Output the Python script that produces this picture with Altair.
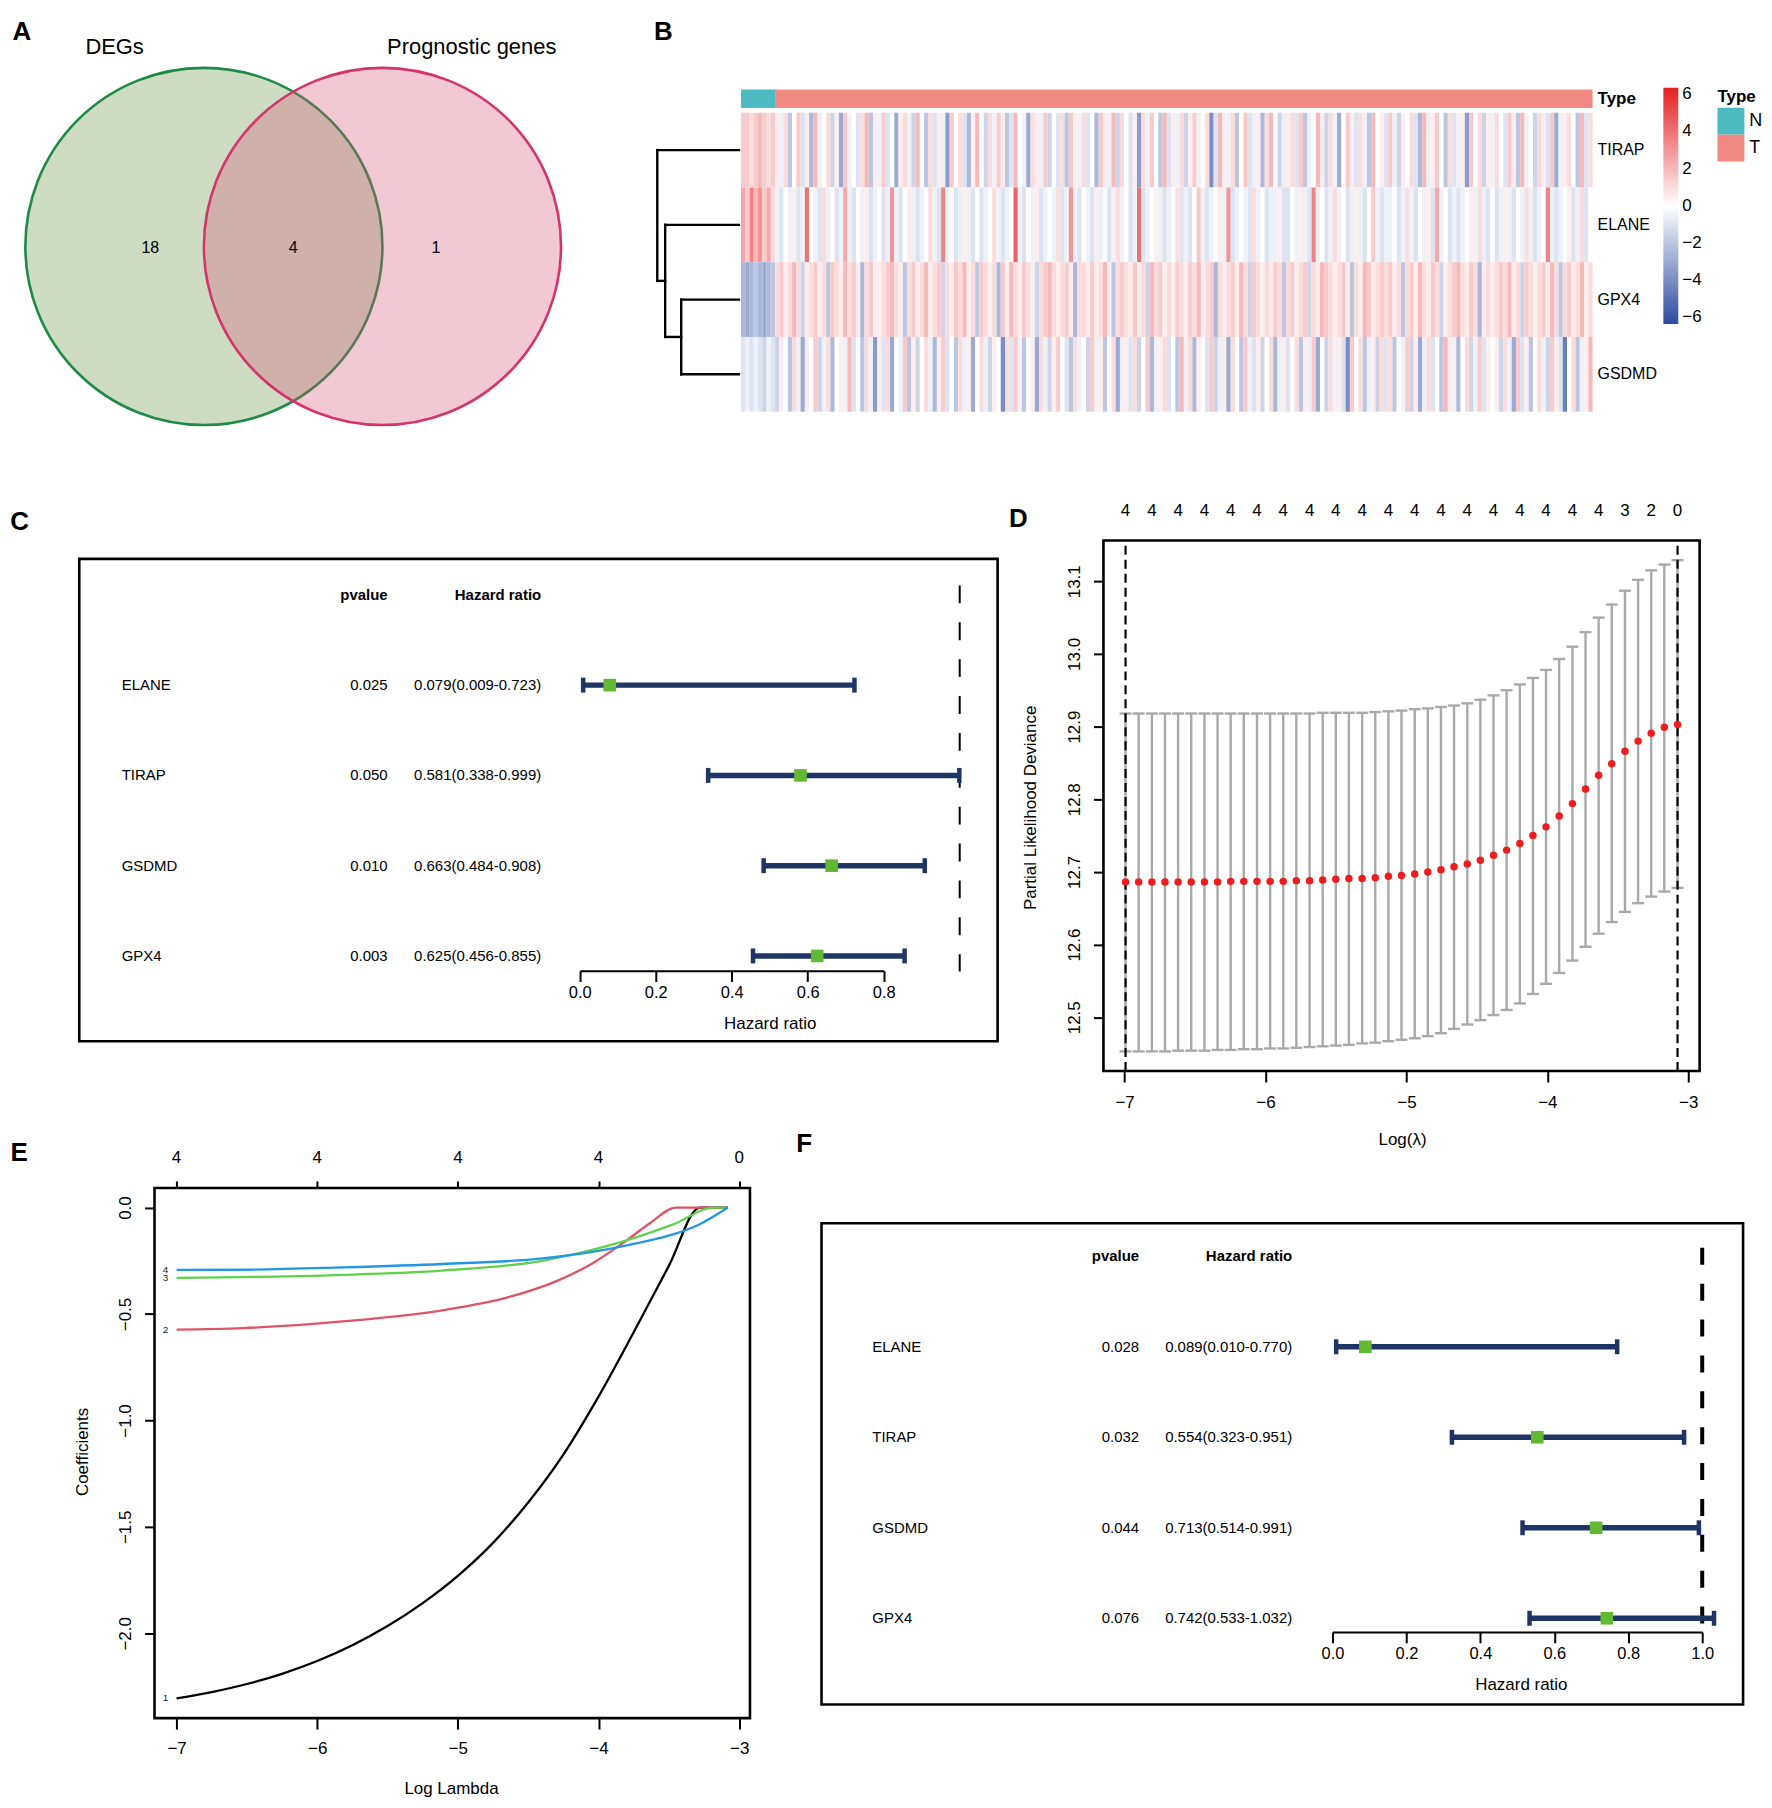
import altair as alt
import pandas as pd

W, H = 1762, 1796
FONT = "Liberation Sans"
NAVY = "#1F3566"
GREEN_SQ = "#62B832"

# ---------------- A: Venn diagram ----------------
VENN_SETS = ["DEGs", "Prognostic genes"]
VENN_CENTRE_X = [0.0, 1.0]          # circle centres in units of the radius
VENN_REGION_COUNTS = ["18", "4", "1"]
VENN_REGION_X = [-0.30, 0.50, 1.30]
VENN_CAT_X = [-0.5, 1.5]
VENN_CAT_Y = 1.12

# ---------------- B: heatmap ----------------
HEAT_GENES = ["TIRAP", "ELANE", "GPX4", "GSDMD"]
N_NORMAL = 8
HEAT_LEVELS = "ABCDEFGHIJKLMNOPQRSTUVWXY"   # A=-6 ... M=0 ... Y=+6 (0.5 steps)
HEAT_TIRAP = ("PPOPQPOP"
              "NLOIMPKNHQLMOJNGPLMKOQIN" "LPKMGNOLJQMIOKNLFPMOKHNQ"
              "MJOLPNIKQMLGONLPJMKOIPNL" "OKMHPNLQJOMKNFOLPMIQKNLO"
              "JNPLMOEKQNLOIMPKLNHOQMJL" "NOKPILMQNJOLGMPNKOLIQMNK"
              "PLJNMOKHQLNPMIOKLNFPMOJN" "LOMKPNIQLMJONKPGLNOMIQKO")
HEAT_ELANE = ("RPTQSPRO"
              "LKMLNKLUMLKOLMKLRLKMLNKL" "MKLSLKMNLKLMOLKTLMKLNLKM"
              "KLMOLKLMVLKMLNKLMLOKLSLK" "MLKNLMKLOLMKLUKLMNLKLMOK"
              "LKMPLKLMNLSKLMLKOLMKLLNK" "KMLNLKTLMKLOLMKLNLKMPLKL"
              "LMKLOLKMLNKRLMKLKLMNLOLK" "MKLNLKMLOLKLMTLKLMNKLOKM")
HEAT_GPX4 = ("HGHIHGHI"
             "OPNOQOJNOPNOIPONQOPNHOPN" "NOPQONIOPNOQNOPJONPOQNOI"
             "PONOHPNQONPONJOPQONOPNHO" "ONPNOQNIOPONPNOJQOPNONPO"
             "NPOQNOPHONOPNQOJPONONPOI" "OPNOPJONQPONOPNIONQPNOPO"
             "PNOIOPNQONPOJNOPQONPOHNO" "NOPOQNOJPONOPNQOIOPNOQNO")
HEAT_GSDMD = ("KLKLKJLK"
              "JNMIOLGNMPJLOHMNLQKMIOLF" "NKOGMLPINJMOLHNPKMIOLNGM"
              "OLJNMEOKPLIMNGOLJNPMKIOL" "MJPLNIMOGLNKOJMPHLNOKMIQ"
              "LOHNMKPJLNGOMIPLKNJMOHLN" "KMOINLPGMJOLNKEPMOILNJOK"
              "OIMLPJNGLOKMIQNLHMOJLPKN" "MNJOLGPKNIMOLJPNKDMOILNQ")
HEAT_STRINGS = {"TIRAP": HEAT_TIRAP, "ELANE": HEAT_ELANE, "GPX4": HEAT_GPX4, "GSDMD": HEAT_GSDMD}
DEND_MERGES = [("GPX4", "GSDMD", 2.12), ("ELANE", "GPX4+GSDMD", 2.71), ("TIRAP", "ELANE+GPX4+GSDMD", 3.00)]
TYPE_LEVELS = ["N", "T"]

# ---------------- C / F: forest plots ----------------
FOREST_GENES = ["ELANE", "TIRAP", "GSDMD", "GPX4"]
C_P = [0.025, 0.050, 0.010, 0.003]
C_HR = [0.079, 0.581, 0.663, 0.625]
C_LO = [0.009, 0.338, 0.484, 0.456]
C_HI = [0.723, 0.999, 0.908, 0.855]
F_P = [0.028, 0.032, 0.044, 0.076]
F_HR = [0.089, 0.554, 0.713, 0.742]
F_LO = [0.010, 0.323, 0.514, 0.533]
F_HI = [0.770, 0.951, 0.991, 1.032]

# ---------------- D: cross-validation curve ----------------
D_LOGLAM = [-6.993, -6.900, -6.806, -6.713, -6.620, -6.527, -6.433, -6.340, -6.247, -6.154,
            -6.060, -5.967, -5.874, -5.781, -5.687, -5.594, -5.501, -5.408, -5.314, -5.221,
            -5.128, -5.035, -4.941, -4.848, -4.755, -4.662, -4.568, -4.475, -4.382, -4.289,
            -4.195, -4.102, -4.009, -3.916, -3.822, -3.729, -3.636, -3.543, -3.449, -3.356,
            -3.263, -3.170, -3.076]
D_CVM = [12.686, 12.686, 12.686, 12.686, 12.686, 12.686, 12.686, 12.686, 12.687, 12.687,
         12.687, 12.687, 12.687, 12.688, 12.688, 12.689, 12.690, 12.691, 12.691, 12.692,
         12.694, 12.695, 12.697, 12.700, 12.703, 12.707, 12.711, 12.716, 12.723, 12.730,
         12.739, 12.750, 12.762, 12.777, 12.794, 12.814, 12.833, 12.849, 12.866, 12.880,
         12.891, 12.899, 12.903]
D_CVUP = [12.918, 12.918, 12.918, 12.918, 12.918, 12.918, 12.918, 12.918, 12.918, 12.918,
          12.918, 12.918, 12.918, 12.918, 12.918, 12.919, 12.919, 12.919, 12.919, 12.920,
          12.921, 12.922, 12.924, 12.925, 12.927, 12.929, 12.932, 12.937, 12.943, 12.950,
          12.958, 12.967, 12.978, 12.993, 13.010, 13.030, 13.050, 13.068, 13.087, 13.102,
          13.115, 13.123, 13.129]
D_CVLO = [12.453, 12.453, 12.453, 12.453, 12.454, 12.454, 12.454, 12.455, 12.455, 12.456,
          12.456, 12.457, 12.457, 12.458, 12.459, 12.460, 12.461, 12.462, 12.464, 12.465,
          12.467, 12.469, 12.471, 12.474, 12.478, 12.484, 12.490, 12.496, 12.503, 12.510,
          12.519, 12.532, 12.546, 12.561, 12.578, 12.597, 12.615, 12.631, 12.645, 12.657,
          12.666, 12.673, 12.678]
D_NZERO = [4, 4, 4, 4, 4, 4, 4, 4, 4, 4, 4, 4, 4, 4, 4, 4, 4, 4, 4, 4, 4, 4,
           4, 4, 4, 4, 4, 4, 4, 4, 4, 4, 4, 4, 4, 4, 4, 4, 3, 3, 2, 1, 0]
D_LAMBDA_MIN = -6.993
D_LAMBDA_1SE = -3.076

# ---------------- E: coefficient paths ----------------
E_PATH_X = {
    "1": [-7.0, -6.75, -6.5, -6.25, -6.0, -5.75, -5.5, -5.25, -5.0, -4.75, -4.5, -4.25,
          -4.0, -3.75, -3.5, -3.28, -3.08],
    "2": [-7.0, -6.527, -5.820, -5.110, -4.640, -4.290, -4.050, -3.820, -3.630, -3.449, -3.08],
    "3": [-7.0, -6.527, -5.820, -5.110, -4.400, -4.165, -3.930, -3.700, -3.465, -3.180, -3.08],
    "4": [-7.0, -6.527, -5.820, -5.110, -4.400, -3.930, -3.700, -3.465, -3.280, -3.08],
}
E_PATH_Y = {
    "1": [-2.306, -2.276, -2.238, -2.190, -2.130, -2.056, -1.966, -1.858, -1.730, -1.575, -1.385, -1.160,
          -0.888, -0.586, -0.274, 0.0, 0.0],
    "2": [-0.573, -0.566, -0.535, -0.483, -0.421, -0.343, -0.265, -0.164, -0.071, 0.0, 0.0],
    "3": [-0.330, -0.327, -0.316, -0.296, -0.250, -0.218, -0.179, -0.133, -0.078, 0.0, 0.0],
    "4": [-0.293, -0.292, -0.281, -0.265, -0.239, -0.195, -0.164, -0.125, -0.078, 0.0],
}
E_COLORS = ["#000000", "#DF536B", "#61D04F", "#2297E6"]
E_TOP_X = [-7, -6, -5, -4, -3]
E_TOP_N = ["4", "4", "4", "4", "0"]

one = pd.DataFrame({"k": [0]})


def rlim(vals):
    lo, hi = min(vals), max(vals)
    pad = 0.04 * (hi - lo)
    return [lo - pad, hi + pad]


def text_at(txt, x, y, size=26, weight="bold", align="center", baseline="middle"):
    return alt.Chart(one).mark_text(fontSize=size, fontWeight=weight, align=align, baseline=baseline,
                                    font=FONT, color="black").encode(
        x=alt.value(x), y=alt.value(y), text=alt.value(txt))


# ======================= A =======================
AX = alt.Scale(domain=[-1, 2], range=[17.4, 554.9])
AY = alt.Scale(domain=[-1, 1], range=[414.7, 57.7])
unit_px = (554.9 - 17.4) / 3.0
venn_df = pd.DataFrame({"set": VENN_SETS, "cx": VENN_CENTRE_X, "cy": [0.0, 0.0]})
a_circ = alt.Chart(venn_df).mark_point(
    shape="circle", size=(2 * unit_px) ** 2, filled=True, fillOpacity=0.32,
    strokeWidth=2.6, strokeOpacity=1, opacity=1
).encode(
    x=alt.X("cx:Q", scale=AX, axis=None),
    y=alt.Y("cy:Q", scale=AY, axis=None),
    fill=alt.Fill("set:N", scale=alt.Scale(domain=VENN_SETS, range=["#639243", "#D65379"]), legend=None),
    stroke=alt.Stroke("set:N", scale=alt.Scale(domain=VENN_SETS, range=["#1F8A46", "#D5336B"]), legend=None),
)
venn_counts = pd.DataFrame({"x": VENN_REGION_X, "y": [-0.01] * 3, "n": VENN_REGION_COUNTS})
a_counts = alt.Chart(venn_counts).mark_text(fontSize=16, font=FONT, color="black").encode(
    x=alt.X("x:Q", scale=AX, axis=None), y=alt.Y("y:Q", scale=AY, axis=None), text="n:N")
venn_cats = pd.DataFrame({"x": VENN_CAT_X, "y": [VENN_CAT_Y] * 2, "t": VENN_SETS})
a_cats = alt.Chart(venn_cats).mark_text(fontSize=22, font=FONT, color="black").encode(
    x=alt.X("x:Q", scale=AX, axis=None), y=alt.Y("y:Q", scale=AY, axis=None), text="t:N")
panel_a = alt.layer(a_circ, a_counts, a_cats)

# ======================= B =======================
n_samp = min(len(s) for s in HEAT_STRINGS.values())
BX = alt.Scale(domain=[0, n_samp], range=[735.5, 1590])
BY = alt.Scale(domain=[-0.5, 3.5], range=[102, 402])
heat_scale = alt.Scale(domain=[-6.35, 0, 6.35], range=["#2A4B9F", "#FFFFFF", "#E41F22"], interpolate="rgb")
rows = []
for r, g in enumerate(HEAT_GENES):
    for j, ch in enumerate(HEAT_STRINGS[g][:n_samp]):
        rows.append({"gene": g, "r0": r - 0.5, "r1": r + 0.5, "j0": j, "j1": j + 1,
                     "v": (HEAT_LEVELS.index(ch) - 12) * 0.5})
heat_df = pd.DataFrame(rows)
b_heat = alt.Chart(heat_df).mark_rect().encode(
    x=alt.X("j0:Q", scale=BX, axis=None), x2="j1:Q",
    y=alt.Y("r0:Q", scale=BY, axis=None), y2="r1:Q",
    color=alt.Color("v:Q", scale=heat_scale, legend=alt.Legend(
        type="gradient", orient="none", legendX=1661, legendY=77, direction="vertical", title=None,
        gradientLength=237, gradientThickness=15, gradientStrokeWidth=0,
        values=[6, 4, 2, 0, -2, -4, -6], format="d", labelFontSize=17, labelOffset=4,
        labelOverlap=False, padding=0, labelFont=FONT, labelColor="black")),
)
gene_df = pd.DataFrame({"gene": HEAT_GENES, "r": list(range(len(HEAT_GENES)))})
b_genes = alt.Chart(gene_df).mark_text(fontSize=16, font=FONT, align="left", baseline="middle", color="black").encode(
    x=alt.value(1595), y=alt.Y("r:Q", scale=BY, axis=None), text="gene:N")
panel_b_heat = alt.layer(b_heat, b_genes)

# dendrogram (own x scale: merge height)
pos = {g: (i, 0.0) for i, g in enumerate(HEAT_GENES)}
segs = []
for a, b, h in DEND_MERGES:
    ya, ha = pos[a]
    yb, hb = pos[b]
    segs += [dict(x0=ha, x1=h, y0=ya, y1=ya), dict(x0=hb, x1=h, y0=yb, y1=yb), dict(x0=h, x1=h, y0=ya, y1=yb)]
    pos[a + "+" + b] = ((ya + yb) / 2, h)
DX_DEND = alt.Scale(domain=[0, 3.0], range=[733.4, 651.5])
panel_b_dend = alt.Chart(pd.DataFrame(segs)).mark_rule(color="black", strokeWidth=2.4, strokeCap="square").encode(
    x=alt.X("x0:Q", scale=DX_DEND, axis=None), x2="x1:Q",
    y=alt.Y("y0:Q", scale=BY, axis=None), y2="y1:Q")

type_df = pd.DataFrame({"type": TYPE_LEVELS, "s": [0, N_NORMAL], "e": [N_NORMAL, n_samp], "track": ["Type", "Type"]})
TRK = alt.Scale(domain=["Type"], range=[78.7, 97.3], paddingInner=0, paddingOuter=0)
b_bar = alt.Chart(type_df).mark_rect().encode(
    x=alt.X("s:Q", scale=BX, axis=None), x2="e:Q",
    y=alt.Y("track:N", scale=TRK, axis=None),
    fill=alt.Fill("type:N", scale=alt.Scale(domain=TYPE_LEVELS, range=["#4DBBC2", "#F08A82"]), legend=alt.Legend(
        orient="none", legendX=1715.3, legendY=78, title="Type", titleFontSize=17, titleFontWeight="bold",
        titleFont=FONT, titleColor="black", titlePadding=2, symbolType="square", symbolSize=729,
        symbolStrokeWidth=0, symbolOpacity=1, rowPadding=0, labelFontSize=18, labelOffset=5,
        labelFont=FONT, labelColor="black", padding=0)),
)
b_trk_lab = alt.Chart(one).mark_text(fontSize=17, fontWeight="bold", font=FONT, align="left", baseline="middle", color="black").encode(
    x=alt.value(1595), y=alt.Y("t:N", scale=TRK, axis=None), text="t:N"
).transform_calculate(t="'Type'")
panel_b_bar = alt.layer(b_bar, b_trk_lab)


# ======================= C / F =======================
def forest(p, hr, lo, hi, x_rng, dom_max, ticks, row_rng, frame, axis_y, title_x, dash_y, dash_w, dash_pat, tx):
    XS = alt.Scale(domain=[0, dom_max], range=x_rng)
    YS = alt.Scale(domain=[0, 4], range=row_rng)
    df = pd.DataFrame({"gene": FOREST_GENES, "row": list(range(1, 5)), "p": p, "hr": hr, "lo": lo, "hi": hi})
    df["p_txt"] = [f"{v:.3f}" for v in p]
    df["hr_txt"] = [f"{h:.3f}({l:.3f}-{u:.3f})" for h, l, u in zip(hr, lo, hi)]
    hdr = pd.DataFrame({"row": [0], "p_txt": ["pvalue"], "hr_txt": ["Hazard ratio"]})
    y = alt.Y("row:Q", scale=YS, axis=None)
    box = alt.Chart(one).mark_rect(fillOpacity=0, stroke="black", strokeWidth=2.6).encode(
        x=alt.value(frame[0]), x2=alt.value(frame[2]), y=alt.value(frame[1]), y2=alt.value(frame[3]))
    dash = alt.Chart(pd.DataFrame({"ref": [1.0]})).mark_rule(color="black", strokeWidth=dash_w, strokeDash=dash_pat).encode(
        x=alt.X("ref:Q", scale=XS, axis=None), y=alt.value(dash_y[0]), y2=alt.value(dash_y[1]))
    axis = alt.Axis(orient="bottom", offset=axis_y - H, values=ticks, format=".1f", tickSize=10.7, tickWidth=2,
                    domain=True, domainWidth=2, labelFontSize=16.5, labelPadding=3, title="Hazard ratio",
                    titleFontSize=17, titleX=title_x, titleY=53, titleBaseline="middle", titleAlign="center")
    bar = alt.Chart(df).mark_rule(color=NAVY, strokeWidth=5.5).encode(
        x=alt.X("lo:Q", scale=XS, axis=axis), x2="hi:Q", y=y)
    cap_l = alt.Chart(df).mark_tick(orient="vertical", size=15, thickness=4.5, color=NAVY, opacity=1).encode(
        x=alt.X("lo:Q", scale=XS, axis=None), y=y)
    cap_h = alt.Chart(df).mark_tick(orient="vertical", size=15, thickness=4.5, color=NAVY, opacity=1).encode(
        x=alt.X("hi:Q", scale=XS, axis=None), y=y)
    sq = alt.Chart(df).mark_square(size=160, color=GREEN_SQ, opacity=1).encode(
        x=alt.X("hr:Q", scale=XS, axis=None), y=y)
    tkw = dict(fontSize=15, font=FONT, baseline="middle", color="black")
    t_gene = alt.Chart(df).mark_text(align="left", **tkw).encode(x=alt.value(tx[0]), y=y, text="gene:N")
    t_p = alt.Chart(df).mark_text(align="right", **tkw).encode(x=alt.value(tx[1]), y=y, text="p_txt:N")
    t_hr = alt.Chart(df).mark_text(align="right", **tkw).encode(x=alt.value(tx[2]), y=y, text="hr_txt:N")
    h_p = alt.Chart(hdr).mark_text(align="right", fontWeight="bold", **tkw).encode(x=alt.value(tx[1]), y=y, text="p_txt:N")
    h_hr = alt.Chart(hdr).mark_text(align="right", fontWeight="bold", **tkw).encode(x=alt.value(tx[2]), y=y, text="hr_txt:N")
    return alt.layer(box, dash, bar, cap_l, cap_h, sq, t_gene, t_p, t_hr, h_p, h_hr).resolve_axis(
        x="independent", y="independent")


panel_c = forest(C_P, C_HR, C_LO, C_HI, x_rng=[573.7, 878.7], dom_max=0.8, ticks=[0, 0.2, 0.4, 0.6, 0.8],
                 row_rng=[585.8, 948.1], frame=(71.5, 549.7, 993, 1033.7), axis_y=963, title_x=764.3,
                 dash_y=(576.3, 963.7), dash_w=2, dash_pat=[18, 19], tx=(114.1, 380.9, 535))
panel_f = forest(F_P, F_HR, F_LO, F_HI, x_rng=[1329, 1700], dom_max=1.0, ticks=[0, 0.2, 0.4, 0.6, 0.8, 1.0],
                 row_rng=[1249.5, 1612.7], frame=(816.3, 1216.3, 1741, 1699.3), axis_y=1626.6, title_x=1518,
                 dash_y=(1241, 1624), dash_w=4, dash_pat=[17, 19], tx=(867.3, 1135, 1288.6))

# ======================= D =======================
d_xlim = rlim(D_LOGLAM)
d_ylim = rlim(D_CVLO + D_CVUP)
DXS = alt.Scale(domain=d_xlim, range=[1099.2, 1697.4])
DYS = alt.Scale(domain=d_ylim, range=[1063.6, 531.3])
d_df = pd.DataFrame({"lam": D_LOGLAM, "cvm": D_CVM, "up": D_CVUP, "lo": D_CVLO, "nz": D_NZERO})
d_frame = alt.Chart(pd.DataFrame({"x0": [d_xlim[0]], "x1": [d_xlim[1]], "y0": [d_ylim[0]], "y1": [d_ylim[1]]})).mark_rect(
    fillOpacity=0, stroke="black", strokeWidth=2.6).encode(
    x=alt.X("x0:Q", scale=DXS, axis=None), x2="x1:Q", y=alt.Y("y0:Q", scale=DYS, axis=None), y2="y1:Q")
d_xaxis = alt.Axis(orient="bottom", offset=1063.6 - H, values=[-7, -6, -5, -4, -3], format="d", tickSize=11, tickWidth=2,
                   domain=False, labelFontSize=17, labelPadding=12.5, title="Log(λ)", titleFontSize=17,
                   titleX=1398.8, titleY=68.9, titleBaseline="middle", titleAlign="center")
d_yaxis = alt.Axis(orient="left", offset=-1099.2, values=[12.5, 12.6, 12.7, 12.8, 12.9, 13.0, 13.1], format=".1f",
                   tickSize=10, tickWidth=2, domain=False, labelFontSize=17, labelAngle=270, labelAlign="center",
                   labelBaseline="alphabetic", labelPadding=14, title="Partial Likelihood Deviance",
                   titleFontSize=17, titleAngle=270, titleX=-73.1, titleY=799, titleBaseline="middle",
                   titleAlign="center")
d_bars = alt.Chart(d_df).mark_rule(color="#A9A9A9", strokeWidth=2.4).encode(
    x=alt.X("lam:Q", scale=DXS, axis=d_xaxis), y=alt.Y("lo:Q", scale=DYS, axis=d_yaxis), y2="up:Q")
d_cap_u = alt.Chart(d_df).mark_tick(orient="horizontal", size=12, thickness=2.4, color="#A9A9A9", opacity=1).encode(
    x=alt.X("lam:Q", scale=DXS, axis=None), y=alt.Y("up:Q", scale=DYS, axis=None))
d_cap_l = alt.Chart(d_df).mark_tick(orient="horizontal", size=12, thickness=2.4, color="#A9A9A9", opacity=1).encode(
    x=alt.X("lam:Q", scale=DXS, axis=None), y=alt.Y("lo:Q", scale=DYS, axis=None))
d_sel = pd.DataFrame({"lam": [D_LAMBDA_MIN, D_LAMBDA_1SE], "y0": [d_ylim[0]] * 2, "y1": [d_ylim[1]] * 2})
d_dash = alt.Chart(d_sel).mark_rule(color="black", strokeWidth=2.2, strokeDash=[9, 5]).encode(
    x=alt.X("lam:Q", scale=DXS, axis=None), y=alt.Y("y0:Q", scale=DYS, axis=None), y2="y1:Q")
d_dots = alt.Chart(d_df).mark_circle(size=56, color="#EE1C1C", opacity=1).encode(
    x=alt.X("lam:Q", scale=DXS, axis=None), y=alt.Y("cvm:Q", scale=DYS, axis=None))
d_top = alt.Chart(d_df.iloc[::2]).mark_text(fontSize=17, font=FONT, baseline="middle", color="black").encode(
    x=alt.X("lam:Q", scale=DXS, axis=None), y=alt.value(501.5), text="nz:N")
panel_d = alt.layer(d_frame, d_bars, d_cap_u, d_cap_l, d_dash, d_dots, d_top).resolve_axis(
    x="independent", y="independent")

# ======================= E =======================
e_rows = []
for k in E_PATH_X:
    for xv, yv in zip(E_PATH_X[k], E_PATH_Y[k]):
        e_rows.append({"coef": k, "x": xv, "y": yv})
e_df = pd.DataFrame(e_rows)
e_xlim = rlim(e_df["x"].tolist())
e_ylim = rlim(e_df["y"].tolist())
EXS = alt.Scale(domain=e_xlim, range=[147, 744.5])
EYS = alt.Scale(domain=e_ylim, range=[1712.9, 1180.9])
e_frame = alt.Chart(pd.DataFrame({"x0": [e_xlim[0]], "x1": [e_xlim[1]], "y0": [e_ylim[0]], "y1": [e_ylim[1]]})).mark_rect(
    fillOpacity=0, stroke="black", strokeWidth=2.6).encode(
    x=alt.X("x0:Q", scale=EXS, axis=None), x2="x1:Q", y=alt.Y("y0:Q", scale=EYS, axis=None), y2="y1:Q")
e_xaxis = alt.Axis(orient="bottom", offset=1712.9 - H, values=[-7, -6, -5, -4, -3], format="d", tickSize=11, tickWidth=2,
                   domain=False, labelFontSize=17, labelPadding=11, title="Log Lambda", titleFontSize=17,
                   titleX=444.5, titleY=71, titleBaseline="middle", titleAlign="center")
e_yaxis = alt.Axis(orient="left", offset=-147, values=[0.0, -0.5, -1.0, -1.5, -2.0], format=".1f",
                   tickSize=10, tickWidth=2, domain=False, labelFontSize=17, labelAngle=270, labelAlign="center",
                   labelBaseline="alphabetic", labelPadding=14, title="Coefficients", titleFontSize=17,
                   titleAngle=270, titleX=-72.5, titleY=1445.3, titleBaseline="middle", titleAlign="center")
e_lines = alt.Chart(e_df).mark_line(strokeWidth=2.3, interpolate="monotone").encode(
    x=alt.X("x:Q", scale=EXS, axis=e_xaxis), y=alt.Y("y:Q", scale=EYS, axis=e_yaxis),
    color=alt.Color("coef:N", scale=alt.Scale(domain=list(E_PATH_X), range=E_COLORS), legend=None),
    order="x:Q")
e_lab_df = pd.DataFrame({"coef": list(E_PATH_X), "x": [v[0] for v in E_PATH_X.values()],
                         "y": [v[0] for v in E_PATH_Y.values()]})
e_labs = alt.Chart(e_lab_df).mark_text(fontSize=10, font=FONT, dx=-11, baseline="middle", color="#222222").encode(
    x=alt.X("x:Q", scale=EXS, axis=None), y=alt.Y("y:Q", scale=EYS, axis=None), text="coef:N")
e_top_axis = alt.Axis(orient="top", offset=-1180.9, values=E_TOP_X, labels=False, domain=False, tickSize=7,
                      tickWidth=2, title=None)
e_top = alt.Chart(pd.DataFrame({"x": E_TOP_X, "n": E_TOP_N})).mark_text(
    fontSize=17, font=FONT, baseline="middle", color="black").encode(
    x=alt.X("x:Q", scale=EXS, axis=e_top_axis), y=alt.value(1150.6), text="n:N")
panel_e = alt.layer(e_frame, e_lines, e_labs, e_top).resolve_axis(x="independent", y="independent")

# ======================= panel letters =======================
letters = [text_at("A", 14, 21), text_at("B", 657.6, 20.8), text_at("C", 11.6, 512.3),
           text_at("D", 1013.9, 510.1), text_at("E", 11.3, 1146), text_at("F", 799, 1137)]

chart = alt.layer(
    panel_a, panel_b_dend, panel_b_heat, panel_b_bar, panel_c, panel_d, panel_e, panel_f, *letters
).resolve_scale(
    x="independent", y="independent", color="independent", fill="independent", stroke="independent"
).properties(
    width=W, height=H, padding=0, autosize=alt.AutoSizeParams(type="none")
).configure_view(stroke=None).configure_axis(
    grid=False, labelFlush=False, labelOverlap=False, labelColor="black", tickColor="black",
    domainColor="black", titleColor="black", labelFont=FONT, titleFont=FONT, titleFontWeight="normal"
).configure_text(font=FONT)

chart.save("out.html", embed_options={"renderer": "svg", "actions": False})
